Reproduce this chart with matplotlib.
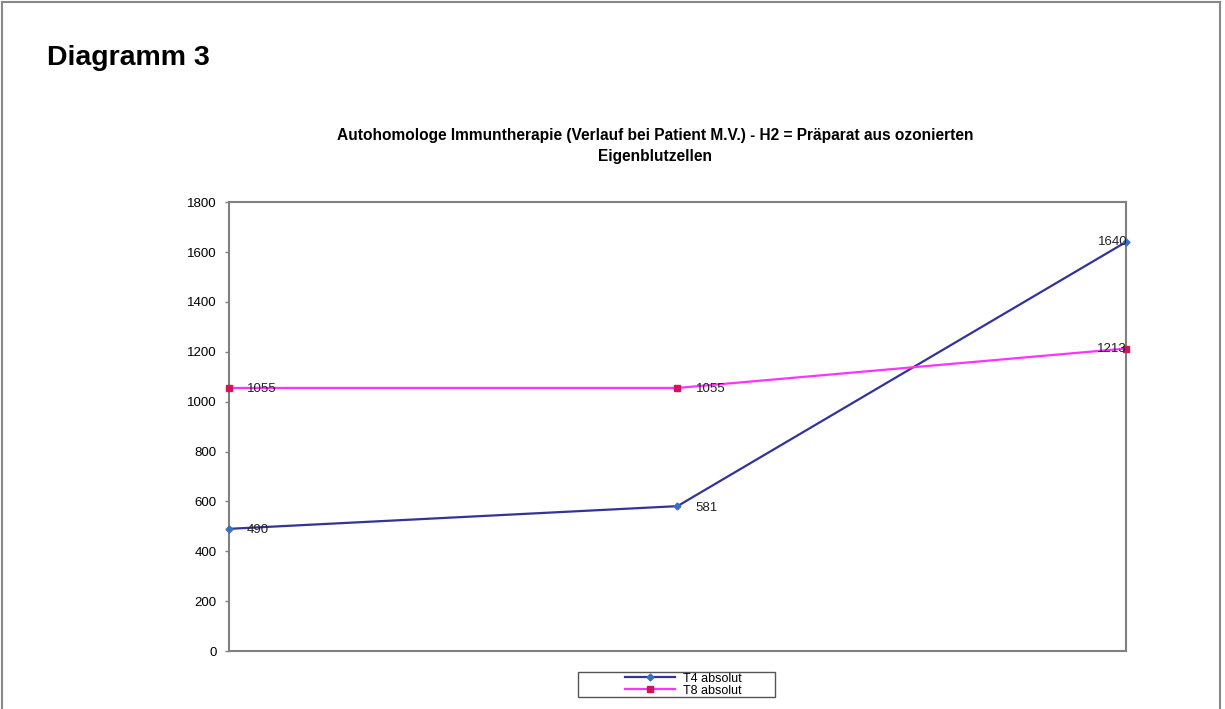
import matplotlib
matplotlib.use("Agg")
from matplotlib import pyplot as plt
from matplotlib.lines import Line2D
from matplotlib.patches import Rectangle

plt.rcParams['font.family'] = ['Liberation Sans', 'DejaVu Sans']

# data
points = [0, 1, 2]
t4_values = [490, 581, 1640]
t8_values = [1055, 1055, 1213]
series_names = ["T4 absolut", "T8 absolut"]
y_ticks = [0, 200, 400, 600, 800, 1000, 1200, 1400, 1600, 1800]

fig = plt.figure(figsize=(12.25, 7.09), dpi=100)
ax = fig.add_axes([0.187, 0.0818, 0.732, 0.633])

ax.plot(points, t4_values, color='#333399', lw=1.6, marker='D', ms=3.5,
        mfc='#3a6fc4', mec='#3a6fc4', label=series_names[0], clip_on=False, zorder=3)
ax.plot(points, t8_values, color='#ff33ff', lw=1.6, marker='s', ms=5,
        mfc='#d4145a', mec='#d4145a', label=series_names[1], clip_on=False, zorder=3)

# data labels, last one pulled to the left like Excel does
for vals in (t4_values, t8_values):
    for i, v in enumerate(vals):
        if i == len(vals) - 1:
            ax.annotate(str(v), (points[i], v), xytext=(1, 0), textcoords='offset points',
                        ha='right', va='center', fontsize=9.5, color='#222222', zorder=4)
        else:
            ax.annotate(str(v), (points[i], v), xytext=(13, -1), textcoords='offset points',
                        ha='left', va='center', fontsize=9.5, color='#222222', zorder=4)

ax.set_xlim(0, 2)
ax.set_ylim(0, 1800)
ax.set_yticks(y_ticks)
ax.set_xticks([])
ax.tick_params(axis='y', direction='out', length=3, width=1, color='#808080',
               labelsize=9.5, pad=6)
for s in ax.spines.values():
    s.set_color('#808080')
    s.set_linewidth(1.5)

fig.text(0.535, 0.794, "Autohomologe Immuntherapie (Verlauf bei Patient M.V.) - H2 = Präparat aus ozonierten\nEigenblutzellen",
         ha='center', va='center', fontsize=11.2, fontweight='bold', linespacing=1.45)
fig.text(0.038, 0.918, "Diagramm 3", ha='left', va='center', fontsize=20.5, fontweight='bold')

# legend: Excel style box with wide side padding
leg = fig.legend(loc='center', bbox_to_anchor=(0.5575, 0.0345), fontsize=9,
                 frameon=False, handlelength=4, borderpad=0.0, labelspacing=0.0,
                 handletextpad=0.65, borderaxespad=0)
for h in leg.legend_handles:
    h.set_linewidth(1.6)
fig.add_artist(Rectangle((0.4718, 0.0169), 0.1608, 0.0353, transform=fig.transFigure,
                         fill=False, edgecolor='#555555', lw=1.0))

# outer frame of the page
fig.add_artist(Line2D([0.002, 0.002], [0, 0.997], color='#888888', lw=1.5))
fig.add_artist(Line2D([0.002, 0.996], [0.997, 0.997], color='#888888', lw=1.5))
fig.add_artist(Line2D([0.996, 0.996], [0, 0.997], color='#888888', lw=1.5))

fig.savefig("out.png", dpi=100)
